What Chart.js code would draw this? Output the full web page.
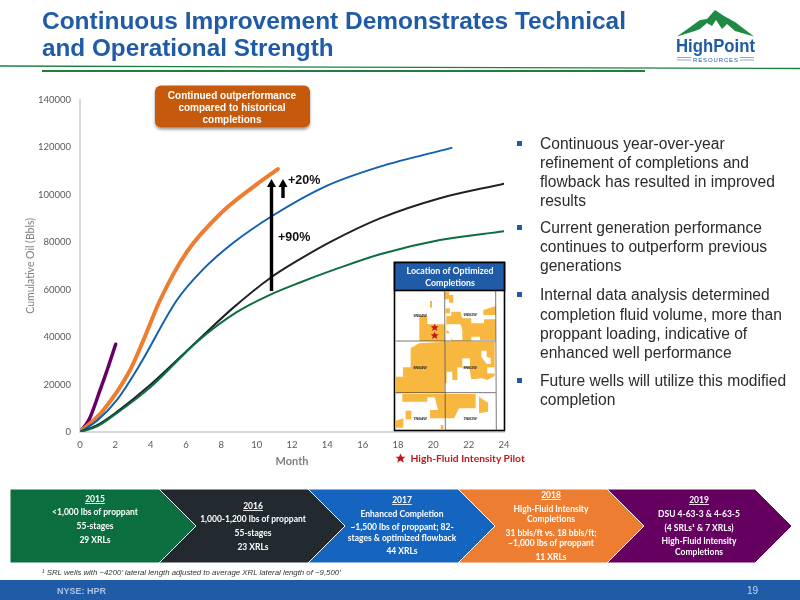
<!DOCTYPE html>
<html><head><meta charset="utf-8">
<script src="https://cdn.jsdelivr.net/npm/chart.js@4"></script>
<style>
html,body{margin:0;padding:0;background:#fff;width:800px;height:600px;overflow:hidden}
#wrap{position:absolute;left:24px;top:85px;width:496px;height:390px}
#over{position:absolute;left:0;top:0;pointer-events:none}
text{font-family:"Liberation Sans",Arial,sans-serif}
.c{font-family:Lato,sans-serif;font-weight:700;fill:#fff;font-size:8.5px;text-anchor:middle}
.b{font-size:15.6px;fill:#2b2b2b}
</style></head><body>
<div id="wrap"><canvas id="chart" width="496" height="390"></canvas></div>
<svg id="over" width="800" height="600" viewBox="0 0 800 600">
<defs><filter id="sh" x="-10%" y="-20%" width="120%" height="150%"><feDropShadow dx="0" dy="2" stdDeviation="1.8" flood-color="#000" flood-opacity=".4"/></filter></defs>
<!-- header -->
<text x="42" y="29" font-size="24.3" font-weight="700" fill="#1F5BA6" textLength="584" lengthAdjust="spacingAndGlyphs">Continuous Improvement Demonstrates Technical</text>
<text x="42" y="55.5" font-size="24.3" font-weight="700" fill="#1F5BA6">and Operational Strength</text>
<line x1="0" y1="66" x2="800" y2="68.5" stroke="#1E7F3F" stroke-width="1.3"/>
<line x1="42" y1="71" x2="645" y2="71" stroke="#1E7F3F" stroke-width="2"/>
<!-- logo -->
<polygon points="677,36.5 700,20 707,19 715,10 724,16 735,22 754,36.5 735,31 727,24 722,29 716,20 712,26 707,23 700,29 695,31" fill="#1E8A44"/>
<text x="676" y="52" font-size="17.5" font-weight="700" fill="#1F5BA6" textLength="79" lengthAdjust="spacingAndGlyphs">HighPoint</text>
<text x="693" y="61.5" font-size="6" fill="#1F5BA6" textLength="45">RESOURCES</text>
<g stroke="#8FA9CC" stroke-width="1"><line x1="677" y1="57.5" x2="691" y2="57.5"/><line x1="677" y1="60" x2="691" y2="60"/><line x1="740" y1="57.5" x2="754" y2="57.5"/><line x1="740" y1="60" x2="754" y2="60"/></g>
<!-- callout -->
<rect x="155" y="85.5" width="155" height="42" rx="6" fill="#C55A11" filter="url(#sh)"/>
<g font-size="10" font-weight="700" fill="#fff" text-anchor="middle">
<text x="232" y="98.5">Continued outperformance</text><text x="232" y="110.5">compared to historical</text><text x="232" y="122.5">completions</text></g>
<!-- arrows -->
<line x1="271.5" y1="291" x2="271.5" y2="186" stroke="#000" stroke-width="3.4"/>
<polygon points="271.5,179 267,187 276,187" fill="#000"/>
<line x1="283" y1="198" x2="283" y2="186" stroke="#000" stroke-width="3.4"/>
<polygon points="283,179 278.5,187 287.5,187" fill="#000"/>
<text x="288" y="184" font-size="12.5" font-weight="700" fill="#111">+20%</text>
<text x="278" y="241" font-size="12.5" font-weight="700" fill="#111">+90%</text>
<!-- map -->
<rect x="394.5" y="262.5" width="110" height="168" fill="#fff" stroke="#000" stroke-width="1.6"/>
<rect x="394.5" y="262.5" width="110" height="28" fill="#1F5BA6" stroke="#000" stroke-width="1.6"/>
<g font-size="8.8" font-weight="700" fill="#fff" text-anchor="middle"><text x="450" y="274" style="font-family:Lato">Location of Optimized</text><text x="450" y="285.5" style="font-family:Lato">Completions</text></g>
<g transform="translate(394,290) scale(.3333)">
<g fill="#F8B73E">
<polygon points="76,78 100,78 100,103 152,103 152,153 76,153"/>
<polygon points="152,5 165,5 165,15 178,15 178,38 165,38 165,28 152,28"/>
<polygon points="155,55 168,55 168,70 155,70"/>
<polygon points="157,78 172,78 172,65 200,65 205,85 232,85 232,100 270,100 270,88 305,88 305,150 258,150 258,140 232,140 232,152 172,152 172,130 157,130"/>
<polygon points="268,60 305,48 305,75 268,75"/>
<polygon points="108,33 114,33 114,53 108,53"/>
<polygon points="50,175 75,160 152,155 152,310 5,310 5,260 27,260 27,232 50,232"/>
<polygon points="152,155 302,155 302,258 280,270 265,265 232,268 226,235 190,232 190,270 175,270 175,245 158,245 158,280 152,280"/>
<polygon points="25,312 245,312 245,355 195,355 180,385 108,385 108,360 132,360 122,322 100,322 100,335 25,335"/>
<polygon points="140,405 148,405 148,418 140,418"/>
<polygon points="35,362 52,362 52,388 35,388"/>
<polygon points="5,392 28,385 28,413 5,413"/>
<polygon points="255,320 282,338 282,365 255,370"/>
</g>
<g fill="#fff">
<polygon points="157,103 200,103 205,120 205,150 175,150 165,125 157,120"/>
<polygon points="205,205 228,205 228,230 205,230"/>
<polygon points="262,182 278,182 278,200 290,205 290,222 278,222 262,200"/>
<polygon points="280,232 302,232 302,250 280,250"/>
</g>
<g stroke="#333" stroke-width="2" fill="none">
<line x1="5" y1="153" x2="305" y2="153"/><line x1="5" y1="308" x2="305" y2="308"/>
<line x1="152" y1="2" x2="154" y2="420"/><line x1="305" y1="2" x2="307" y2="420"/></g>
<g font-size="11" font-weight="700" fill="#222" text-anchor="middle">
<text x="78" y="82">9N/64W</text><text x="228" y="78">9N/63W</text>
<text x="78" y="236">8N/64W</text><text x="228" y="236">8N/63W</text>
<text x="78" y="390">7N/64W</text><text x="228" y="390">7N/63W</text></g>
<g fill="#C4161C"><polygon transform="translate(122,113)" points="0,-12 3.5,-4 12,-4 5.5,1.5 8,10 0,5 -8,10 -5.5,1.5 -12,-4 -3.5,-4"/><polygon transform="translate(122,137)" points="0,-12 3.5,-4 12,-4 5.5,1.5 8,10 0,5 -8,10 -5.5,1.5 -12,-4 -3.5,-4"/></g>
</g>
<polygon transform="translate(400.5,458.5)" points="0,-5 1.5,-1.7 5,-1.7 2.3,.6 3.3,4.2 0,2.1 -3.3,4.2 -2.3,.6 -5,-1.7 -1.5,-1.7" fill="#C4161C"/>
<text x="410.5" y="462" style="font-family:Lato" font-size="10.3" font-weight="700" fill="#C4161C">High-Fluid Intensity Pilot</text>
<!-- bullets -->
<g fill="#1F5BA6"><rect x="517" y="141" width="5" height="5"/><rect x="517" y="225" width="5" height="5"/><rect x="517" y="292" width="5" height="5"/><rect x="517" y="378" width="5" height="5"/></g>
<g class="bl">
<text class="b" x="540" y="149">Continuous year-over-year</text>
<text class="b" x="540" y="168">refinement of completions and</text>
<text class="b" x="540" y="187">flowback has resulted in improved</text>
<text class="b" x="540" y="206">results</text>
<text class="b" x="540" y="233">Current generation performance</text>
<text class="b" x="540" y="252">continues to outperform previous</text>
<text class="b" x="540" y="271">generations</text>
<text class="b" x="540" y="300">Internal data analysis determined</text>
<text class="b" x="540" y="320">completion fluid volume, more than</text>
<text class="b" x="540" y="339">proppant loading, indicative of</text>
<text class="b" x="540" y="358">enhanced well performance</text>
<text class="b" x="540" y="386">Future wells will utilize this modified</text>
<text class="b" x="540" y="405">completion</text>
</g>
<!-- chevrons -->
<g stroke="#fff" stroke-width="1">
<polygon points="10,489 159,489 196,526 159,563 10,563" fill="#0B6E3E"/>
<polygon points="159,489 308,489 345,526 308,563 159,563 196,526" fill="#22292F"/>
<polygon points="308,489 458,489 495,526 458,563 308,563 345,526" fill="#1565C0"/>
<polygon points="458,489 607,489 644,526 607,563 458,563 495,526" fill="#ED7D31"/>
<polygon points="607,489 755,489 792,526 755,563 607,563 644,526" fill="#650060"/>
</g>
<g>
<text class="c" x="95" y="502" text-decoration="underline">2015</text>
<text class="c" x="95" y="515">&lt;1,000 lbs of proppant</text>
<text class="c" x="95" y="529">55-stages</text>
<text class="c" x="95" y="543">29 XRLs</text>
<text class="c" x="253" y="509" text-decoration="underline">2016</text>
<text class="c" x="253" y="522">1,000-1,200 lbs of proppant</text>
<text class="c" x="253" y="536">55-stages</text>
<text class="c" x="253" y="550">23 XRLs</text>
<text class="c" x="402" y="503" text-decoration="underline">2017</text>
<text class="c" x="402" y="517">Enhanced Completion</text>
<text class="c" x="402" y="530">~1,500 lbs of proppant; 82-</text>
<text class="c" x="402" y="541">stages &amp; optimized flowback</text>
<text class="c" x="402" y="554">44 XRLs</text>
<text class="c" x="551" y="498" text-decoration="underline">2018</text>
<text class="c" x="551" y="512">High-Fluid Intensity</text>
<text class="c" x="551" y="522">Completions</text>
<text class="c" x="551" y="536">31 bbls/ft vs. 18 bbls/ft;</text>
<text class="c" x="551" y="546">~1,000 lbs of proppant</text>
<text class="c" x="551" y="560">11 XRLs</text>
<text class="c" x="699" y="503" text-decoration="underline">2019</text>
<text class="c" x="699" y="517">DSU 4-63-3 &amp; 4-63-5</text>
<text class="c" x="699" y="531">(4 SRLs¹ &amp; 7 XRLs)</text>
<text class="c" x="699" y="544">High-Fluid Intensity</text>
<text class="c" x="699" y="555">Completions</text>
</g>
<!-- footer -->
<text x="42" y="575" font-size="7.8" font-style="italic" fill="#333">¹ SRL wells with ~4200’ lateral length adjusted to average XRL lateral length of ~9,500’</text>
<rect x="0" y="580" width="800" height="20" fill="#1F5BA6"/>
<text x="57" y="594" font-size="9" font-weight="700" fill="#A9C4E8">NYSE: HPR</text>
<text x="747" y="594" font-size="10" fill="#C5D6EE">19</text>
</svg>
<script>
const yTitle = "Cumulative Oil (Bbls)";
const xTitle = "Month";
const greenMonths  = [0,1,2,4,6.7,8.87,10.75,12.45,14.43,16.98,20.37,24];
const greenValues  = [0,2500,7500,19000,38500,50500,57800,63000,68500,74900,80900,84600];
const blackMonths  = [0,1,2,4,6.7,8.68,10.75,12.45,14.15,16.98,20.37,24];
const blackValues  = [0,3000,8000,20000,38800,52400,64800,72800,80000,90000,98500,104600];
const blueMonths   = [0,1,2.08,3.4,5.47,6.98,8.68,10.85,13.87,16.98,21.03];
const blueValues   = [0,5000,13400,28500,55400,68600,79700,90900,103400,111800,119700];
const orangeMonths = [0,1.32,2.83,3.58,4.53,6.04,7.92,9.81,11.2];
const orangeValues = [0,9200,26000,38500,55500,75800,91800,103300,110800];
const purpleMonths = [0,0.5,1.13,1.6,2.02];
const purpleValues = [0,5000,17500,27500,37000];
function pts(xs,ys){return xs.map((x,i)=>({x:x,y:ys[i]}));}
function ds(xs,ys,c,w){return {data:pts(xs,ys),borderColor:c,borderWidth:w,pointRadius:0,fill:false,cubicInterpolationMode:'monotone',borderCapStyle:'round',showLine:true};}
new Chart(document.getElementById('chart'),{
  type:'line',
  data:{datasets:[
    ds(greenMonths,greenValues,'#0F6E3F',2),
    ds(blackMonths,blackValues,'#1E2329',2),
    ds(blueMonths,blueValues,'#1160B0',2),
    ds(orangeMonths,orangeValues,'#ED7D31',4),
    ds(purpleMonths,purpleValues,'#660066',3.5)
  ]},
  options:{
    responsive:false,animation:false,
    layout:{padding:{top:12.5,right:16,left:0,bottom:7}},
    plugins:{legend:{display:false},tooltip:{enabled:false}},
    scales:{
      x:{type:'linear',min:0,max:24,
        afterFit(a){a.height=36;},
        grid:{display:false,drawTicks:false},
        border:{color:'#D9D9D9',width:2},
        ticks:{stepSize:2,color:'#595959',font:{family:'Lato',size:9.5},padding:7,maxRotation:0,autoSkip:false},
        title:{display:true,text:xTitle,color:'#7F7F7F',font:{family:'Lato',size:11,weight:'bold'},padding:{top:3,bottom:0}}},
      y:{min:0,max:140000,
        afterFit(a){a.width=56;},
        grid:{display:false,drawTicks:false},
        border:{color:'#D9D9D9',width:2},
        ticks:{stepSize:20000,color:'#595959',font:{family:'Lato',size:9.5},padding:9,callback:v=>String(v)},
        title:{display:true,text:yTitle,color:'#7F7F7F',font:{family:'Lato',size:10.5},padding:{top:0,bottom:0}}}
    }
  }
});
</script>
</body></html>
